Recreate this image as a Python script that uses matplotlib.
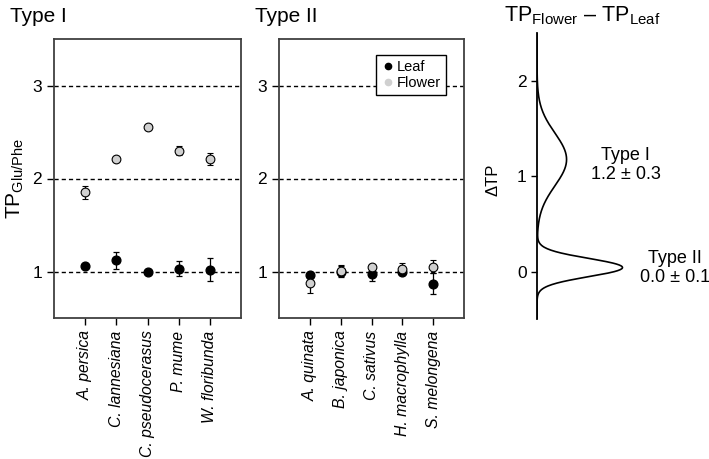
import numpy as np
import matplotlib
matplotlib.use('Agg')
import matplotlib.pyplot as plt
from matplotlib.lines import Line2D

plt.rcParams['font.family'] = ['Liberation Sans', 'DejaVu Sans']
plt.rcParams['mathtext.fontset'] = 'custom'
plt.rcParams['mathtext.rm'] = 'Liberation Sans'
plt.rcParams['mathtext.it'] = 'Liberation Sans:italic'
plt.rcParams['mathtext.bf'] = 'Liberation Sans:bold'

# ---- data ----
type1_species = ['A. persica', 'C. lannesiana', 'C. pseudocerasus', 'P. mume', 'W. floribunda']
type1_leaf = [1.06, 1.12, 1.00, 1.03, 1.02]
type1_leaf_err = [0.02, 0.09, 0.01, 0.08, 0.12]
type1_flower = [1.85, 2.21, 2.55, 2.30, 2.21]
type1_flower_err = [0.07, 0.02, 0.02, 0.05, 0.06]

type2_species = ['A. quinata', 'B. japonica', 'C. sativus', 'H. macrophylla', 'S. melongena']
type2_leaf = [0.96, 1.00, 0.97, 1.00, 0.87]
type2_leaf_err = [0.02, 0.06, 0.07, 0.04, 0.11]
type2_flower = [0.88, 1.01, 1.05, 1.03, 1.05]
type2_flower_err = [0.11, 0.06, 0.02, 0.06, 0.07]

y_ticks = [1, 2, 3]
d_ticks = [0, 1, 2]

W, H = 709, 459
fig = plt.figure(figsize=(W / 100, H / 100), dpi=100)

def px_ax(l, r, t, b):
    return fig.add_axes([l / W, 1 - b / H, (r - l) / W, (b - t) / H])

ax1 = px_ax(54, 241, 39, 318)
ax2 = px_ax(279, 464, 39, 318)
ax3 = px_ax(537, 709, 33.4, 319.4)

spine_col = '#404040'
gray = '#d0d0d0'

def scatter_panel(ax, species, leaf, leaf_err, flower, flower_err):
    x = np.arange(1, len(species) + 1)
    for yv in y_ticks:
        ax.axhline(yv, color='black', lw=1.0, ls=(0, (3, 2.2)), zorder=1)
    ax.errorbar(x, leaf, yerr=leaf_err, fmt='o', ms=6.3, mfc='black', mec='black',
                ecolor='black', elinewidth=0.9, capsize=2, capthick=0.9, zorder=3)
    ax.errorbar(x, flower, yerr=flower_err, fmt='o', ms=6.3, mfc=gray, mec='black', mew=0.8,
                ecolor='black', elinewidth=0.9, capsize=2, capthick=0.9, zorder=4)
    ax.set_xlim(0, 6)
    ax.set_ylim(0.5, 3.5)
    ax.set_xticks(x)
    ax.set_xticklabels(species, rotation=90, fontstyle='italic', fontsize=11.3)
    ax.set_yticks(y_ticks)
    ax.tick_params(axis='both', direction='out', length=5, width=1.0, labelsize=12.5, color='black')
    ax.tick_params(axis='x', labelsize=11.3, pad=4)
    for s in ax.spines.values():
        s.set_color(spine_col)
        s.set_linewidth(1.3)

scatter_panel(ax1, type1_species, type1_leaf, type1_leaf_err, type1_flower, type1_flower_err)
scatter_panel(ax2, type2_species, type2_leaf, type2_leaf_err, type2_flower, type2_flower_err)

handles = [Line2D([], [], ls='none', marker='o', ms=4.5, mfc='black', mec='black'),
           Line2D([], [], ls='none', marker='o', ms=4.5, mfc=gray, mec=gray)]
leg = ax2.legend(handles, ['Leaf', 'Flower'], loc='upper right',
                 bbox_to_anchor=(0.903, 0.943), borderaxespad=0, fontsize=10.5,
                 frameon=True, fancybox=False, edgecolor='black', framealpha=1,
                 handletextpad=0.1, handlelength=1.0, borderpad=0.35, labelspacing=0.15)
leg.get_frame().set_linewidth(1.0)

# ---- density of flower - leaf differences ----
d1 = np.array(type1_flower) - np.array(type1_leaf)
d2 = np.array(type2_flower) - np.array(type2_leaf)
m1, s1 = d1.mean(), d1.std(ddof=1)
m2, s2 = d2.mean(), d2.std(ddof=1)
yy = np.linspace(-0.5, 2.5, 600)
def gpdf(y, m, s):
    return np.exp(-0.5 * ((y - m) / s) ** 2) / (s * np.sqrt(2 * np.pi))
dens = gpdf(yy, m1, s1) + gpdf(yy, m2, s2)
ax3.plot(dens, yy, color='black', lw=1.2)
ax3.set_ylim(-0.5, 2.5)
ax3.set_xlim(0, 8.4)
for k in ['top', 'right', 'bottom']:
    ax3.spines[k].set_visible(False)
ax3.spines['left'].set_linewidth(1.3)
ax3.set_xticks([])
ax3.set_yticks(d_ticks)
ax3.tick_params(axis='y', direction='out', length=4, width=1.0, labelsize=12.5)
ax3.patch.set_alpha(0)

ax3.text(4.32, m1 - 0.06, f'Type I\n{m1:.1f} ± {s1:.1f}', ha='center', va='center',
         fontsize=13, linespacing=1.15, clip_on=False)
ax3.text(6.72, m2, f'Type II\n{abs(m2):.1f} ± {s2:.1f}', ha='center', va='center',
         fontsize=13, linespacing=1.15, clip_on=False)

# ---- titles / labels ----
fig.text(10 / W, 1 - 16 / H, 'Type I', fontsize=15, ha='left', va='center')
fig.text(255 / W, 1 - 16 / H, 'Type II', fontsize=15, ha='left', va='center')
fig.text(582 / W, 1 - 16 / H, r'$\mathrm{TP}_{\mathrm{Flower}}\ \mathrm{–}\ \mathrm{TP}_{\mathrm{Leaf}}$',
         fontsize=15.5, ha='center', va='center')
fig.text(15 / W, 1 - 178 / H, r'$\mathrm{TP}_{\mathrm{Glu/Phe}}$', fontsize=15,
         rotation=90, ha='center', va='center')
fig.text(493 / W, 1 - 180 / H, 'ΔTP', fontsize=12, rotation=90, ha='center', va='center')

fig.savefig('out.png', dpi=100)
